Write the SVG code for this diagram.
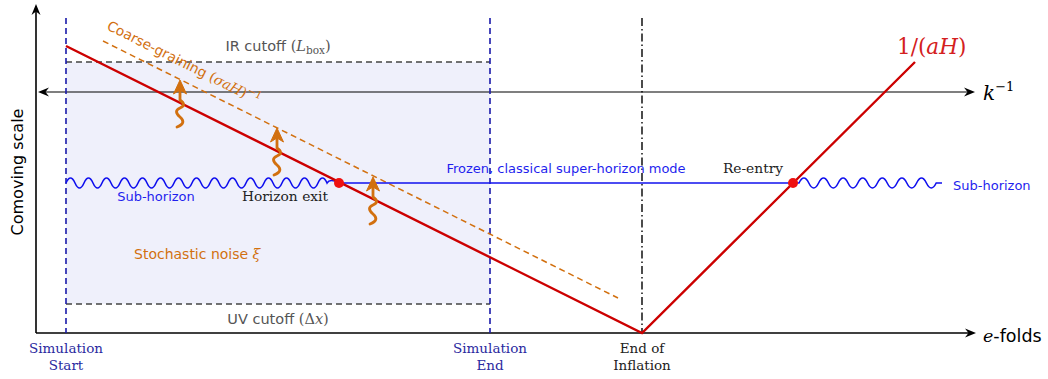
<svg xmlns="http://www.w3.org/2000/svg" width="1048" height="379" viewBox="0 0 1048 379">
<style>
.sans{font-family:"DejaVu Sans",sans-serif;}
.serif{font-family:"DejaVu Serif","Liberation Serif",serif;}
.it{font-style:italic;}
.gray{fill:#555;}
.blue{fill:#1f1fee;}
.navy{fill:#2a2aa0;}
.orange{fill:#d2700f;}
.axis{stroke:#000;stroke-width:1.6;fill:none;}
.cut{stroke:#444;stroke-width:1.3;stroke-dasharray:6 4;fill:none;}
.sim{stroke:#1a1aaa;stroke-width:1.6;stroke-dasharray:6 4;fill:none;}
.hub{stroke:#cc0000;stroke-width:2.4;fill:none;stroke-linejoin:miter;}
.mode{stroke:#1010ee;stroke-width:1.6;fill:none;}
.cg{stroke:#d2700f;stroke-width:1.5;stroke-dasharray:6 4;fill:none;}
.sq{stroke:#d2700f;stroke-width:2.8;fill:none;stroke-linecap:round;}
</style>
<defs>
<path id="ahR" d="M0,0 L-11,-4.5 L-7.5,0 L-11,4.5 Z" fill="#000"/>
<g id="noise">
<path class="sq" d="M-3,47 Q7,43 0,37 T0,28 T0,20 L0,8"/>
<path d="M0,0 L6.5,14 L0,10 L-6.5,14 Z" fill="#d2700f" stroke="#d2700f" stroke-width="1" stroke-linejoin="round"/>
</g>
</defs>

<g id="box">
<rect x="66" y="62" width="424" height="242" fill="#eff0fb"/>
<line class="cut" x1="66" y1="62" x2="490" y2="62"/>
<line class="cut" x1="66" y1="304" x2="490" y2="304"/>
<text class="sans gray" x="278" y="51" font-size="14.5" text-anchor="middle">IR cutoff <tspan class="serif">(</tspan><tspan class="serif it">L</tspan><tspan class="serif" font-size="10.5" dy="3">box</tspan><tspan class="serif" dy="-3">)</tspan></text>
<text class="sans gray" x="278" y="324" font-size="14.5" text-anchor="middle">UV cutoff <tspan class="serif">(Δ</tspan><tspan class="serif it">x</tspan><tspan class="serif">)</tspan></text>
</g>

<g id="axes">
<line class="axis" x1="36" y1="333" x2="970" y2="333"/>
<use href="#ahR" x="976" y="333"/>
<line class="axis" x1="36" y1="333" x2="36" y2="10"/>
<use href="#ahR" transform="translate(36,4) rotate(-90)"/>
<text class="sans" x="0" y="0" font-size="16" text-anchor="middle" transform="translate(23,172) rotate(-90)">Comoving scale</text>
<text x="983" y="342" font-size="17.5" class="sans"><tspan class="serif it">e</tspan>-folds</text>
</g>

<g id="k-inverse">
<line stroke="#000" stroke-width="1.1" x1="42" y1="92" x2="969" y2="92"/>
<use href="#ahR" x="975" y="92"/>
<use href="#ahR" transform="translate(38,92) rotate(180)"/>
<text class="serif" x="983" y="100" font-size="20"><tspan class="it">k</tspan><tspan font-size="13" dy="-9">−1</tspan></text>
</g>

<g id="sim-start">
<line class="sim" x1="66" y1="18" x2="66" y2="333"/>
<text class="serif navy" x="66" y="353" font-size="13.5" text-anchor="middle">Simulation</text>
<text class="serif navy" x="66" y="370" font-size="13.5" text-anchor="middle">Start</text>
</g>

<g id="sim-end">
<line class="sim" x1="490" y1="18" x2="490" y2="333"/>
<text class="serif navy" x="490" y="353" font-size="13.5" text-anchor="middle">Simulation</text>
<text class="serif navy" x="490" y="370" font-size="13.5" text-anchor="middle">End</text>
</g>

<g id="end-inflation">
<line stroke="#000" stroke-width="1.4" stroke-dasharray="8 3 1.5 3" x1="642" y1="18" x2="642" y2="333"/>
<text class="serif" x="642" y="353" font-size="13.5" text-anchor="middle" fill="#222">End of</text>
<text class="serif" x="642" y="370" font-size="13.5" text-anchor="middle" fill="#222">Inflation</text>
</g>

<g id="coarse-graining">
<line class="cg" x1="103" y1="41" x2="618" y2="298"/>
<text class="sans orange" font-size="13.8" transform="translate(106,29) rotate(26.6)">Coarse-graining <tspan class="serif">(</tspan><tspan class="serif it">σaH</tspan><tspan class="serif">)</tspan><tspan class="serif" font-size="10" dy="-6">−1</tspan></text>
</g>

<g id="connectors">
<path class="mode" d="M66,183 q4.5,-10 9,0 t9,0 t9,0 t9,0 t9,0 t9,0 t9,0 t9,0 t9,0 t9,0 t9,0 t9,0 t9,0 t9,0 t9,0 t9,0 t9,0 t9,0 t9,0 t9,0 t9,0 t9,0 t9,0 t9,0 t9,0 t9,0 t9,0 t9,0 t9,0 q3,-5 12,0"/>
<line class="mode" x1="339" y1="183" x2="793" y2="183"/>
<path class="mode" d="M793,183 L799,183 q4.9,-10 9.8,0 t9.8,0 t9.8,0 t9.8,0 t9.8,0 t9.8,0 t9.8,0 t9.8,0 t9.8,0 t9.8,0 t9.8,0 t9.8,0 t9.8,0 t9.8,0 L942,183"/>
<path class="hub" d="M66,46 L642,333 L915,62"/>
</g>

<g id="hubble-label">
<text class="serif" x="897" y="54" font-size="21.5" fill="#d42020">1/(<tspan class="it">aH</tspan>)</text>
</g>

<g id="horizon-exit">
<circle cx="339" cy="183" r="5" fill="#ee1111"/>
<text class="serif" x="285" y="201" font-size="13.8" text-anchor="middle" fill="#222">Horizon exit</text>
</g>

<g id="re-entry">
<circle cx="793" cy="183" r="5" fill="#ee1111"/>
<text class="serif" x="753" y="173" font-size="13.8" text-anchor="middle" fill="#222">Re-entry</text>
</g>

<g id="labels">
<text class="sans blue" x="156" y="201" font-size="13" text-anchor="middle">Sub-horizon</text>
<text class="sans blue" x="566" y="173" font-size="13" text-anchor="middle">Frozen, classical super-horizon mode</text>
<text class="sans blue" x="953" y="190" font-size="13">Sub-horizon</text>
<text class="sans orange" x="134" y="259" font-size="14">Stochastic noise <tspan class="serif it">ξ</tspan></text>
</g>

<g id="noise-arrows">
<use href="#noise" x="180" y="80"/>
<use href="#noise" x="277" y="128"/>
<use href="#noise" x="373" y="177"/>
</g>
</svg>
